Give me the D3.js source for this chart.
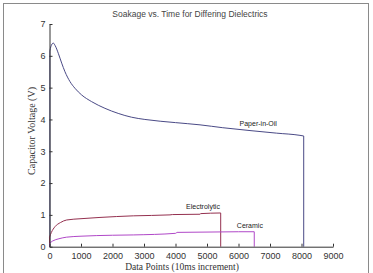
<!DOCTYPE html>
<html>
<head>
<meta charset="utf-8">
<script src="https://cdn.jsdelivr.net/npm/d3@7"></script>
<style>
  body { margin: 0; background: #fff; }
  svg { display: block; }
</style>
</head>
<body>
<div id="chart"></div>
<script>
// data: [data point, volts]
const paperInOil = [[12,6.15],[40,6.28],[120,6.4],[180,6.32],[279,6.08],[387,5.77],[491,5.5],[650,5.19],[808,4.98],[1020,4.77],[1337,4.56],[1759,4.35],[2181,4.19],[2605,4.07],[3027,4.0],[4000,3.9],[4778,3.83],[5500,3.74],[6365,3.65],[7200,3.57],[7952,3.5],[8070,3.48]];
const electrolytic = [[0,0.3],[60,0.45],[175,0.63],[350,0.76],[546,0.84],[1000,0.88],[1603,0.92],[2660,0.97],[3825,1.0],[3900,1.01],[4778,1.02],[4800,1.04],[5435,1.06]];
const ceramic = [[0,0.11],[100,0.18],[300,0.25],[546,0.3],[1000,0.33],[2000,0.36],[2660,0.37],[4000,0.42],[4050,0.45],[5000,0.46],[6000,0.47],[6500,0.47]];
const seriesNames = ["Paper-in-Oil", "Electrolytic", "Ceramic"];
const seriesColors = ["#4a4a86", "#94304f", "#b048c8"];
const xTicks = [0,1000,2000,3000,4000,5000,6000,7000,8000,9000];
const yTicks = [0,1,2,3,4,5,6,7];

const width = 373, height = 273;
const svg = d3.select("#chart").append("svg")
  .attr("width", width)
  .attr("height", height);

// outer frame
svg.append("rect")
  .attr("x", 3.5).attr("y", 3.5)
  .attr("width", 365).attr("height", 280)
  .attr("fill", "none").attr("stroke", "#8a8a8a").attr("stroke-width", 1);

const x = d3.scaleLinear().domain([0, 9000]).range([49.5, 333]);
const y = d3.scaleLinear().domain([0, 7]).range([246.7, 24]);

const line = d3.line().x(d => x(d[0])).y(d => y(d[1])).curve(d3.curveMonotoneX);

[paperInOil, electrolytic, ceramic].forEach((s, i) => {
  const first = s[0], last = s[s.length - 1];
  const g = svg.append("g").attr("stroke", seriesColors[i]).attr("fill", "none").attr("stroke-width", 1);
  g.append("path").attr("d", line(s));
  // capacitor disconnected: voltage drops straight to zero
  g.append("line")
    .attr("x1", x(last[0])).attr("x2", x(last[0]))
    .attr("y1", y(last[1])).attr("y2", y(0));
  // charge-up at the start
  g.append("line")
    .attr("x1", x(first[0])).attr("x2", x(first[0]))
    .attr("y1", y(first[1])).attr("y2", y(0));
});

// axes, ticks pointing inward like matlab
const xAxis = svg.append("g")
  .attr("transform", `translate(0,${y(0)})`)
  .call(d3.axisBottom(x).tickValues(xTicks).tickFormat(d3.format("d")).tickSizeInner(-3).tickSizeOuter(0).tickPadding(6));
const yAxis = svg.append("g")
  .attr("transform", `translate(${x(0)},0)`)
  .call(d3.axisLeft(y).tickValues(yTicks).tickFormat(d3.format("d")).tickSizeInner(-3).tickSizeOuter(0).tickPadding(4));

[xAxis, yAxis].forEach(g => {
  g.select(".domain").attr("stroke", "#333");
  g.selectAll(".tick line").attr("stroke", "#333");
  g.selectAll(".tick text")
    .attr("fill", "#333")
    .style("font-family", "'Liberation Sans', Arial, sans-serif")
    .style("font-size", "9px");
});

// title
svg.append("text")
  .attr("x", 190).attr("y", 17)
  .attr("text-anchor", "middle")
  .style("font-family", "'Liberation Sans', Arial, sans-serif")
  .style("font-size", "8.5px")
  .attr("fill", "#444")
  .text("Soakage vs. Time for Differing Dielectrics");

// axis labels
svg.append("text")
  .attr("x", 182).attr("y", 270)
  .attr("text-anchor", "middle")
  .style("font-family", "'Liberation Serif', 'Times New Roman', serif")
  .style("font-size", "9.5px")
  .attr("fill", "#333")
  .text("Data Points (10ms increment)");

svg.append("text")
  .attr("transform", "translate(35,131) rotate(-90)")
  .attr("text-anchor", "middle")
  .style("font-family", "'Liberation Serif', 'Times New Roman', serif")
  .style("font-size", "10px")
  .attr("fill", "#333")
  .text("Capacitor Voltage (V)");

// series labels (right end of text)
const labelPos = [[7220, 3.8], [5410, 1.2], [6775, 0.6]];
seriesNames.forEach((n, i) => {
  svg.append("text")
    .attr("x", x(labelPos[i][0])).attr("y", y(labelPos[i][1]))
    .attr("text-anchor", "end")
    .style("font-family", "'Liberation Sans', Arial, sans-serif")
    .style("font-size", "7px")
    .attr("fill", "#222")
    .text(n);
});
</script>
</body>
</html>
